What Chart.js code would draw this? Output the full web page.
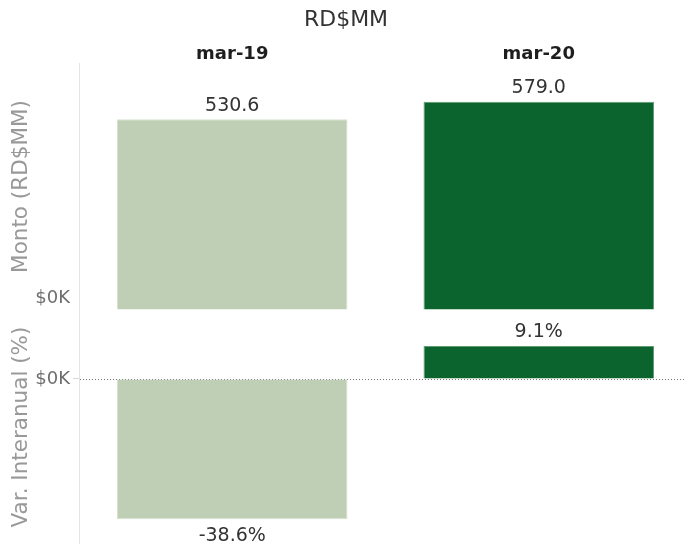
<!DOCTYPE html>
<html>
<head>
<meta charset="utf-8">
<script src="https://cdn.jsdelivr.net/npm/chart.js@4"></script>
<style>
  html, body { margin: 0; padding: 0; background: #fff; overflow: hidden; }
  #wrap { position: relative; width: 686px; height: 544px; overflow: hidden; }
  #top { position: absolute; left: 0; top: 0; }
  #bottom { position: absolute; left: 0; top: 310px; }
</style>
</head>
<body>
<div id="wrap">
  <canvas id="top" width="692" height="310"></canvas>
  <canvas id="bottom" width="692" height="234"></canvas>
</div>
<script>
const categories = ['mar-19', 'mar-20'];
const montos = [530.6, 579.0];
const variaciones = [-38.6, 9.1];
const zeroTick = '$0K';

const FONT = "'DejaVu Sans', sans-serif";
const colors = ['#bfcfb5', '#0b632d'];
const borders = ['#d6e2cf', '#5f9c71'];

// value labels above / below each bar
function valueLabels(fmt) {
    return {
        id: 'valueLabels',
        afterDatasetsDraw(chart) {
            const ctx = chart.ctx;
            const meta = chart.getDatasetMeta(0);
            const vals = chart.data.datasets[0].data;
            ctx.save();
            ctx.font = '19px ' + FONT;
            ctx.fillStyle = '#333';
            ctx.textAlign = 'center';
            meta.data.forEach((bar, i) => {
                const v = vals[i];
                if (v >= 0) {
                    ctx.textBaseline = 'bottom';
                    ctx.fillText(fmt(v), bar.x, bar.y - 4);
                } else {
                    ctx.textBaseline = 'top';
                    ctx.fillText(fmt(v), bar.x, bar.y + 7);
                }
            });
            ctx.restore();
        }
    };
}

const zeroLine = {
    id: 'zeroLine',
    beforeDatasetsDraw(chart) {
        const y = Math.round(chart.scales.y.getPixelForValue(0)) + 0.5;
        const ctx = chart.ctx;
        ctx.save();
        ctx.strokeStyle = '#777';
        ctx.lineWidth = 1;
        ctx.setLineDash([1, 2]);
        ctx.beginPath();
        ctx.moveTo(chart.chartArea.left + 1, y);
        ctx.lineTo(chart.chartArea.right, y);
        ctx.stroke();
        ctx.restore();
    }
};

function yAxis(title, min, max, labelOffset) {
    return {
        min: min,
        max: max,
        afterBuildTicks: s => { s.ticks = [{ value: 0 }]; },
        afterFit: s => { s.width = 79; s.paddingTop = 0; s.paddingBottom = 0; },
        ticks: {
            callback: () => zeroTick,
            color: '#6e6e6e',
            font: { family: FONT, size: 18 },
            padding: 3,
            labelOffset: labelOffset
        },
        grid: { drawOnChartArea: false, tickLength: 6, tickColor: '#d8d8d8' },
        border: { color: '#e4e4e4', width: 1 },
        title: {
            display: true,
            text: title,
            color: '#999',
            font: { family: FONT, size: 21.5 },
            padding: { top: 9, bottom: 0 }
        }
    };
}

new Chart(document.getElementById('top'), {
    type: 'bar',
    data: {
        labels: categories,
        datasets: [{
            data: montos,
            backgroundColor: colors,
            borderColor: borders,
            borderWidth: 1,
            barPercentage: 0.752,
            categoryPercentage: 1
        }]
    },
    options: {
        responsive: false,
        animation: false,
        layout: { padding: 0 },
        plugins: {
            legend: { display: false },
            tooltip: { enabled: false },
            title: {
                display: true,
                text: 'RD$MM',
                color: '#333',
                font: { family: FONT, size: 22, weight: 'normal' },
                padding: { top: 7, bottom: 4 }
            }
        },
        scales: {
            x: {
                position: 'top',
                afterFit: s => { s.height = 25.6; s.paddingLeft = 0; s.paddingRight = 0; },
                ticks: {
                    color: '#1e1e1e',
                    font: { family: FONT, size: 18, weight: 'bold', lineHeight: 1 },
                    padding: 0
                },
                grid: { display: false, drawTicks: false },
                border: { display: false }
            },
            y: yAxis('Monto (RD$MM)', 0, 687, -12)
        }
    },
    plugins: [valueLabels(v => v.toFixed(1))]
});

new Chart(document.getElementById('bottom'), {
    type: 'bar',
    data: {
        labels: categories,
        datasets: [{
            data: variaciones,
            backgroundColor: colors,
            borderColor: borders,
            borderWidth: 1,
            barPercentage: 0.752,
            categoryPercentage: 1
        }]
    },
    options: {
        responsive: false,
        animation: false,
        layout: { padding: 0 },
        plugins: {
            legend: { display: false },
            tooltip: { enabled: false }
        },
        scales: {
            x: {
                display: false
            },
            y: yAxis('Var. Interanual (%)', -45.45, 19.0, 0)
        }
    },
    plugins: [zeroLine, valueLabels(v => v.toFixed(1) + '%')]
});
</script>
</body>
</html>
